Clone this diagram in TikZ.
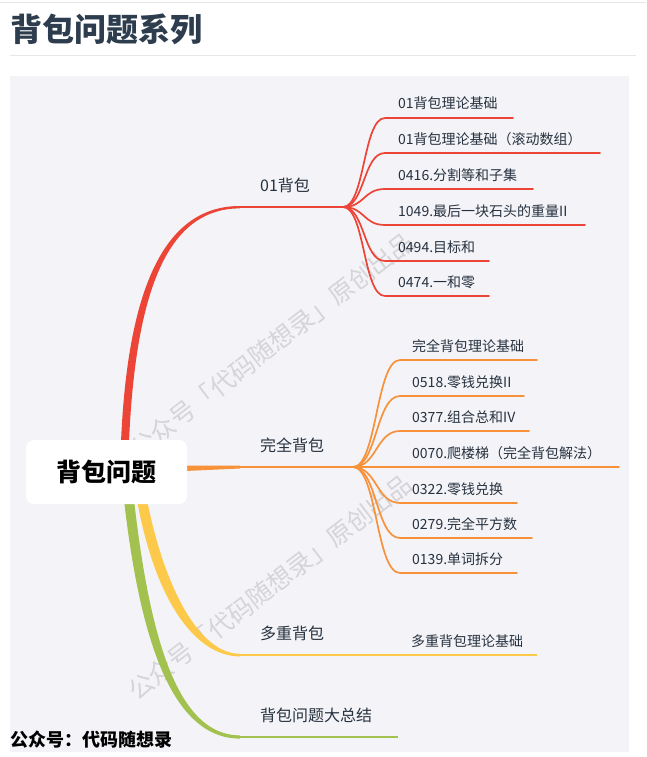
\documentclass[tikz,border=0pt]{standalone}
\usepackage{fontspec}
\setmainfont{Noto Sans CJK SC}
\usetikzlibrary{positioning}
\definecolor{panelbg}{HTML}{F4F4F8}
\definecolor{rulegray}{HTML}{E6E6EA}
\definecolor{titlecol}{HTML}{2E3D4E}
\definecolor{labelcol}{HTML}{26313F}
\definecolor{brred}{HTML}{EC4437}
\definecolor{brorange}{HTML}{F7923A}
\definecolor{bryellow}{HTML}{FDC94A}
\definecolor{brgreen}{HTML}{A2C14E}
\definecolor{markgray}{HTML}{D4D4D9}

\begin{document}
\begin{tikzpicture}[x=1pt, y=-1pt,
    leaf/.style={font=\fontsize{14}{14}\selectfont, text=labelcol, inner sep=0pt, anchor=base west},
    branch/.style={font=\fontsize{16}{16}\selectfont, text=labelcol, inner sep=0pt, anchor=base west},
    twig/.style={line width=1.7pt, line cap=round},
    wmark/.style={font=\fontsize{25}{25}\selectfont, text=markgray, rotate=37.6, inner sep=0pt}]
    \useasboundingbox (0,0) rectangle (646,757);
    
    % page title and rules
    \draw[rulegray, line width=1pt] (0,3) -- (646,3);
    \node[font=\fontsize{32}{32}\selectfont\bfseries, text=titlecol, anchor=base west, inner sep=0pt]
    (title) at (10,42) {背包问题系列};
    \draw[rulegray, line width=1pt] (10,56) -- (636,56);
    \fill[panelbg] (10,76) rectangle (629,752);
    
    \node[wmark] (wm1) at (272,345) {公众号「代码随想录」原创出品};
    \node[wmark] (wm2) at (270,587) {公众号「代码随想录」原创出品};
    
    % branch points
    \coordinate (b01) at (240,207);
    \coordinate (f01) at (343,207);
    \coordinate (b02) at (240,467);
    \coordinate (f02) at (353,467);
    \coordinate (b03) at (240,655);
    \coordinate (b04) at (240,737);
    
    % main branches, thick at the root
    \fill[brred] (121,442) .. controls (128,280) and (168,206) .. (240,206)
    -- (240,208.4) .. controls (172,208.4) and (136,280) .. (129,442) -- cycle;
    \draw[brred, line width=2.2pt] (b01) -- (f01);
    
    \fill[brorange] (185,465.5) -- (240,465.7) -- (240,468.5) -- (185,471) -- cycle;
    \draw[brorange, line width=2.2pt] (b02) -- (f02);
    
    \fill[bryellow] (137,500) .. controls (155,600) and (195,656.4) .. (240,656.4)
    -- (240,653.8) .. controls (200,653.8) and (165,590) .. (147,500) -- cycle;
    \coordinate (m1e) at (537,655);
    \draw[bryellow, line width=2.4pt] (b03) -- (m1e);
    
    \fill[brgreen] (124,500) .. controls (140,640) and (172,738.6) .. (240,738.6)
    -- (240,735.4) .. controls (178,735.4) and (150,640) .. (134,500) -- cycle;
    \coordinate (s1e) at (398,737);
    \draw[brgreen, line width=2.6pt] (b04) -- (s1e);
    
    % root
    \node[fill=white, rounded corners=8pt, minimum width=161pt, minimum height=64pt, inner sep=0pt,
    font=\fontsize{25}{25}\selectfont\bfseries, text=black] (root) at (106.5,472) {背包问题};
    
    % branch labels
    \node[branch] (knap01) at (260,191) {01背包};
    \node[branch] (complete) at (260,451) {完全背包};
    \node[branch] (multi) at (260,639) {多重背包};
    \node[branch] (summary) at (260,721) {背包问题大总结};
    
    % 01 knapsack children
    \coordinate (k1s) at (385,118); \coordinate (k1e) at (513,118);
    \coordinate (k2s) at (385,153); \coordinate (k2e) at (600,153);
    \coordinate (k3s) at (385,189); \coordinate (k3e) at (533,189);
    \coordinate (k4s) at (385,225); \coordinate (k4e) at (585,225);
    \coordinate (k5s) at (385,261); \coordinate (k5e) at (489,261);
    \coordinate (k6s) at (385,296); \coordinate (k6e) at (489,296);
    \node[leaf] (k1) at (398,109) {01背包理论基础};
    \node[leaf] (k2) at (398,144) {01背包理论基础（滚动数组）};
    \node[leaf] (k3) at (398,180) {0416.分割等和子集};
    \node[leaf] (k4) at (398,216) {1049.最后一块石头的重量II};
    \node[leaf] (k5) at (398,252) {0494.目标和};
    \node[leaf] (k6) at (398,287) {0474.一和零};
    \draw[twig, brred] (f01) .. controls +(22,0) and +(-22,0) .. (k1s) -- (k1e);
    \draw[twig, brred] (f01) .. controls +(22,0) and +(-22,0) .. (k2s) -- (k2e);
    \draw[twig, brred] (f01) .. controls +(22,0) and +(-22,0) .. (k3s) -- (k3e);
    \draw[twig, brred] (f01) .. controls +(22,0) and +(-22,0) .. (k4s) -- (k4e);
    \draw[twig, brred] (f01) .. controls +(22,0) and +(-22,0) .. (k5s) -- (k5e);
    \draw[twig, brred] (f01) .. controls +(22,0) and +(-22,0) .. (k6s) -- (k6e);
    
    % complete knapsack children
    \coordinate (c1s) at (400,360); \coordinate (c1e) at (537,360);
    \coordinate (c2s) at (400,396); \coordinate (c2e) at (524,396);
    \coordinate (c3s) at (400,431); \coordinate (c3e) at (529,431);
    \coordinate (c4e) at (619,467);
    \coordinate (c5s) at (400,503); \coordinate (c5e) at (517,503);
    \coordinate (c6s) at (400,538); \coordinate (c6e) at (532,538);
    \coordinate (c7s) at (400,573); \coordinate (c7e) at (517,573);
    \node[leaf] (c1) at (412,351) {完全背包理论基础};
    \node[leaf] (c2) at (412,387) {0518.零钱兑换II};
    \node[leaf] (c3) at (412,422) {0377.组合总和IV};
    \node[leaf] (c4) at (412,458) {0070.爬楼梯（完全背包解法）};
    \node[leaf] (c5) at (412,494) {0322.零钱兑换};
    \node[leaf] (c6) at (412,529) {0279.完全平方数};
    \node[leaf] (c7) at (412,564) {0139.单词拆分};
    \draw[twig, brorange] (f02) .. controls +(24,0) and +(-24,0) .. (c1s) -- (c1e);
    \draw[twig, brorange] (f02) .. controls +(24,0) and +(-24,0) .. (c2s) -- (c2e);
    \draw[twig, brorange] (f02) .. controls +(24,0) and +(-24,0) .. (c3s) -- (c3e);
    \draw[twig, brorange] (f02) -- (c4e);
    \draw[twig, brorange] (f02) .. controls +(24,0) and +(-24,0) .. (c5s) -- (c5e);
    \draw[twig, brorange] (f02) .. controls +(24,0) and +(-24,0) .. (c6s) -- (c6e);
    \draw[twig, brorange] (f02) .. controls +(24,0) and +(-24,0) .. (c7s) -- (c7e);
    
    % multiple knapsack child
    \node[leaf] (m1) at (411,646) {多重背包理论基础};
    
    \node[font=\fontsize{18}{18}\selectfont\bfseries, text=black, anchor=base west, inner sep=0pt]
    (brand) at (10,746) {公众号：代码随想录};
\end{tikzpicture}
\end{document}
